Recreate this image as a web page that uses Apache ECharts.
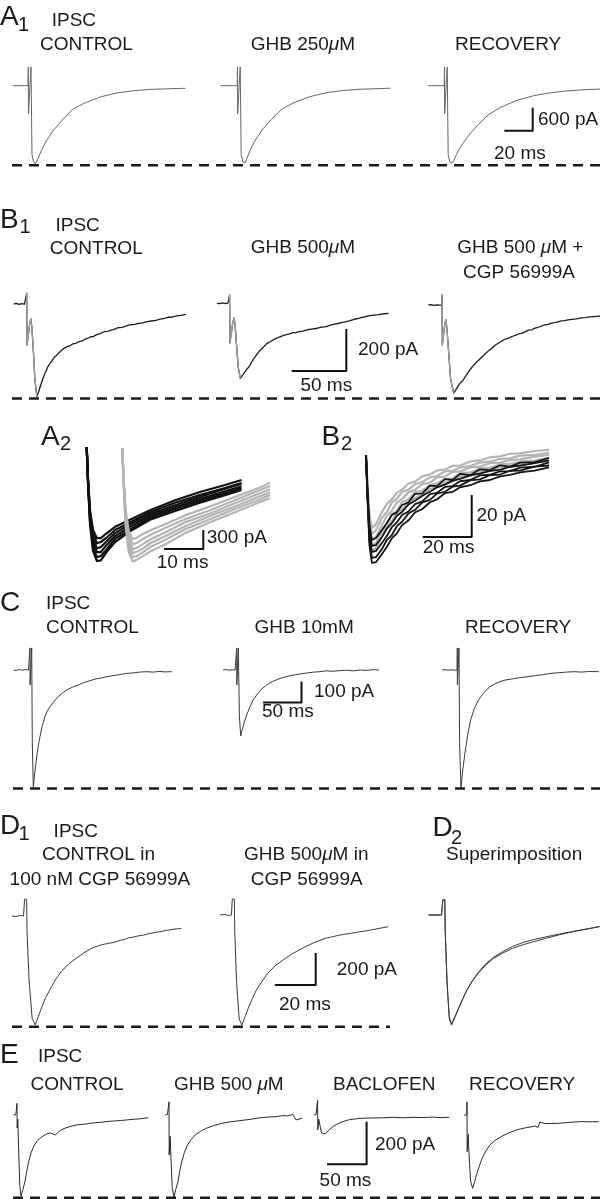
<!DOCTYPE html>
<html>
<head>
<meta charset="utf-8">
<script src="https://cdn.jsdelivr.net/npm/echarts@6/dist/echarts.min.js"></script>
<style>
  html, body { margin: 0; padding: 0; background: #fff; }
  #main { width: 600px; height: 1199px; }
</style>
</head>
<body>
<div id="main"></div>
<script>
// traces: [time ms, current pA], t = 0 at the stimulus artefact, 0 pA = holding baseline

// A1  IPSC, GHB 250 uM
var a1Control = [[-11,0],[-0.2,0],[0,490],[0.1,-740],[1.9,490],[2.6,-1800],[3.8,-2000],[5.3,-2030],[6.5,-1930],[8.4,-1760],[10.5,-1590],[13.1,-1420],[17.9,-1160],[23.9,-900],[31,-630],[39.3,-460],[51.2,-290],[63.1,-185],[74.8,-130],[86.9,-95],[101,-78],[111,-68]];
var a1Ghb = [[-12,0],[-0.2,0],[0,490],[0.1,-740],[1.9,490],[2.6,-1800],[3.8,-1990],[5.3,-2020],[6.5,-1910],[8.4,-1730],[10.5,-1560],[13.1,-1390],[17.9,-1130],[23.9,-880],[31,-620],[39.3,-450],[51.2,-285],[63.1,-180],[74.8,-125],[86.9,-92],[101,-75],[108,-66]];
var a1Recovery = [[-11.7,0],[-0.2,0],[0,490],[0.1,-740],[1.9,490],[2.6,-1800],[3.8,-1990],[5.3,-2020],[6.5,-1950],[8.4,-1800],[10.5,-1650],[13.1,-1500],[17.9,-1260],[23.9,-1010],[31,-760],[39.3,-570],[51.2,-380],[63.1,-260],[74.8,-185],[86.9,-135],[101,-100],[110,-88]];

// B1  IPSC, GHB 500 uM, GHB 500 uM + CGP 56999A
var b1Control = [[-11.8,0],[-9.5,3],[-7,-2],[-4.5,2],[-2,-1],[-0.2,0],[0,52],[0.3,-195],[1.5,-190],[2.6,-100],[3.7,-71],[4.7,-110],[5.8,-195],[7.5,-360],[9.3,-441],[10.8,-420],[12.3,-394],[14.5,-360],[16.9,-328],[19,-302],[21.6,-281],[25,-255],[27,-246],[29.3,-233],[31,-229],[33,-215],[37,-203],[40,-198],[42,-190],[45,-187],[47.8,-179],[51,-176],[53,-168],[56,-163],[58.6,-156],[61,-155],[64,-146],[67,-141],[70.9,-132],[74,-130],[77,-124],[80,-121],[83.3,-113],[87,-111],[90,-106],[94,-99],[98.7,-97],[102,-92],[106,-90],[110,-84],[114.2,-81],[118,-78],[122,-72],[126,-68],[129.6,-63],[133,-62],[137,-57],[141,-54],[145.6,-49]];
var b1Ghb = [[-11.7,0],[-9,-2],[-6.5,2],[-4,-1],[-1.5,1],[-0.2,0],[0,40],[0.3,-189],[1.5,-185],[2.8,-95],[4.1,-70],[5.1,-110],[6.2,-189],[8,-310],[9.9,-357],[11.5,-345],[13.5,-330],[15.5,-315],[17.8,-302],[20,-280],[23,-258],[25.5,-240],[28.1,-222],[31,-208],[34,-192],[37,-183],[40,-174],[42.5,-167],[46,-160],[50,-152],[54,-147],[58,-140],[61,-139],[63.8,-135],[67,-132],[71,-126],[75,-123],[79,-120],[83,-115],[88.3,-111],[92,-104],[96,-99],[100,-95],[103,-91],[105.9,-88],[110,-83],[114,-76],[118,-72],[121,-67],[124,-64],[128,-59],[132,-56],[136,-54],[140,-51],[145.3,-48]];
var b1Cgp = [[-12.4,0],[-10,2],[-7.5,-2],[-5,1],[-2.5,-1],[-0.2,0],[0,48],[0.3,-190],[1.5,-186],[2.5,-95],[3.5,-71],[4.5,-110],[5.6,-190],[7.8,-350],[10.6,-420],[12.5,-405],[15,-384],[17,-370],[19.4,-357],[22,-335],[25,-312],[28,-292],[31,-275],[33.7,-262],[37,-245],[40,-230],[43,-216],[46,-205],[48.5,-192],[51.4,-182],[55,-170],[58,-162],[61,-158],[64,-150],[67,-145],[70,-138],[72.7,-135],[76,-128],[79,-120],[82,-118],[85,-110],[88,-106],[91,-100],[93.9,-95],[97,-92],[100,-86],[103,-84],[106,-80],[109,-76],[112,-74],[115.2,-71],[119,-68],[123,-66],[127,-61],[131,-60],[135,-57],[139,-55],[143,-53],[146.3,-52]];

// A2  superimposed IPSCs, control (black) and GHB (grey), shared sample times
var a2Time = [0, 0.33, 0.84, 1.6, 2.6, 3.6, 4.9, 7.2, 11, 16.1, 22.5, 28.8, 35.2, 39.4];
var a2Black1 = [0, -490, -1000, -1310, -1440, -1440, -1370, -1260, -1150, -1000, -840, -710, -600, -520];
var a2Black2 = [0, -510, -1030, -1370, -1520, -1500, -1440, -1310, -1190, -1030, -880, -760, -650, -570];
var a2Black3 = [0, -520, -1070, -1440, -1600, -1580, -1500, -1360, -1220, -1060, -920, -790, -660, -580];
var a2Black4 = [0, -540, -1120, -1500, -1660, -1660, -1560, -1410, -1260, -1090, -950, -820, -700, -620];
var a2Black5 = [0, -550, -1170, -1580, -1740, -1720, -1630, -1450, -1300, -1120, -980, -850, -730, -650];
var a2Black6 = [0, -570, -1220, -1640, -1800, -1790, -1670, -1500, -1330, -1150, -1010, -880, -760, -680];
var a2GreyTime = [0, 0.33, 0.84, 1.6, 2.6, 3.6, 4.9, 7.2, 11, 16.1, 22.5, 28.8, 35.2, 37.6];
var a2Grey1 = [0, -470, -980, -1300, -1440, -1420, -1370, -1300, -1200, -1060, -920, -770, -620, -550];
var a2Grey2 = [0, -490, -1030, -1370, -1520, -1500, -1450, -1370, -1260, -1120, -980, -820, -660, -600];
var a2Grey3 = [0, -510, -1070, -1440, -1600, -1580, -1530, -1440, -1330, -1170, -1030, -870, -710, -650];
var a2Grey4 = [0, -520, -1120, -1500, -1660, -1640, -1600, -1500, -1390, -1230, -1070, -920, -760, -700];
var a2Grey5 = [0, -540, -1170, -1560, -1720, -1710, -1660, -1560, -1450, -1280, -1120, -960, -810, -740];
var a2Grey6 = [0, -550, -1220, -1630, -1790, -1770, -1720, -1630, -1520, -1340, -1170, -1010, -850, -790];

// B2  superimposed IPSCs
var b2Time = [0, 0.6, 1.4, 2.4, 4.1, 6.5, 8.5, 10.6, 12.6, 14.7, 17.3, 20, 23, 26.1, 29, 32.2, 35.3, 38.4, 42.5, 46.5, 50.6, 54.7, 58.8, 62.9, 68.8, 74.7];
var b2Black1 = [0, -16.7, -33.3, -40.5, -39.5, -35.7, -32.4, -28.5, -27.3, -23.8, -22.6, -18.5, -18.3, -14.6, -14.8, -11.5, -11.9, -9, -9.6, -6.8, -7.2, -4.9, -5.5, -3.6, -3.4, -1.4];
var b2Black2 = [0, -17.6, -35.7, -43.3, -42.9, -39, -35.1, -32.4, -28.9, -27.1, -23.6, -21.8, -19.4, -17.5, -15.4, -14.1, -12.3, -11.4, -9.7, -8.9, -7.6, -7.1, -5.6, -5.1, -3.9, -2.6];
var b2Black3 = [0, -18.6, -38.1, -46.2, -45.7, -41.9, -38.6, -34.3, -32.1, -28.6, -26.9, -23.4, -22.1, -18.6, -18, -15.2, -14.8, -12.5, -11.9, -9.7, -9.4, -7.8, -7.7, -6, -5.6, -3.5];
var b2Black4 = [0, -19.5, -40.5, -49, -48.6, -44.8, -40.5, -38, -33.9, -31.8, -27.9, -26.1, -22.6, -21.4, -18.4, -17.5, -15.1, -14.6, -12.1, -11.6, -9.6, -9.3, -7.5, -7.4, -5.5, -5];
var b2Black5 = [0, -20.5, -42.9, -51.4, -51, -47.1, -43.8, -39.6, -37.3, -33.4, -31.2, -27.3, -25.7, -22.5, -21.1, -18.2, -17.6, -15.4, -14.4, -12.6, -11.9, -10.2, -9.5, -8.3, -7.4, -5.9];
var b2Grey1 = [0, -14.3, -28.6, -34.8, -32.9, -27.1, -23.4, -21, -17.9, -16.5, -13.6, -12.7, -10.2, -9.3, -7.3, -6.9, -5.2, -5, -3.1, -2.6, -1.1, -0.6, 0.6, 0.8, 1.9, 2.4];
var b2Grey2 = [0, -15.2, -31, -37.6, -35.7, -30, -27.2, -22.5, -20.8, -17.6, -16.5, -13.9, -12.8, -10.7, -10, -7.8, -7.5, -5.9, -5.3, -3.6, -3.2, -1.8, -1.6, -0.3, 0.1, 1];
var b2Grey3 = [0, -16.2, -33.3, -40.5, -39, -33.3, -29, -26.4, -22.6, -21, -17.8, -16.6, -13.9, -13.2, -10.7, -10.3, -8, -7.8, -5.9, -5.5, -3.9, -3.6, -2.4, -2.1, -0.8, 0];
var b2Grey4 = [0, -17.1, -35.7, -43.3, -41.9, -36.2, -33.1, -28.1, -26.6, -22.4, -21.2, -17.6, -16.9, -14.3, -13.6, -11.4, -11.2, -8.5, -8.4, -6.3, -6.1, -4.4, -4.2, -3.2, -2.7, -1.3];
var b2Grey5 = [0, -18.1, -38.1, -45.7, -44.3, -39, -34.2, -31.5, -27.6, -25.8, -22.4, -20.6, -18.7, -16.2, -15.3, -13.1, -12.5, -10.2, -10, -8, -7.6, -5.9, -5.7, -4.6, -3.8, -2.6];

// C  IPSC, GHB 10 mM
var cControl = [[-21.7,0],[-18,-2],[-14,2],[-10,-1],[-6,2],[-2,0],[-0.2,0],[0,105],[0.1,-71],[2.2,105],[3,-350],[4.3,-556],[6.5,-480],[8.7,-413],[10.8,-360],[13,-318],[16,-265],[19.5,-222],[22.5,-195],[26,-175],[31,-150],[36.8,-127],[42,-110],[47.8,-95],[55,-82],[62.9,-71],[70,-60],[78.1,-51],[86,-42],[93,-38],[99.9,-32],[108,-27],[117,-22],[125.9,-16],[134,-14],[143,-10],[152,-8],[160,-10],[168,-7],[176,-9],[184.5,-8]];
var cGhb = [[-17.8,0],[-14,2],[-10,-1],[-6,1],[-2,0],[-0.2,0],[0,105],[0.1,-71],[2.1,105],[3.5,-220],[5.2,-314],[7.5,-280],[10.8,-238],[14,-205],[17.3,-175],[21,-145],[26,-119],[32,-92],[39.1,-71],[47,-54],[56.4,-40],[65,-31],[74,-24],[82.4,-19],[90,-15],[100,-10],[108.5,-8],[116,-4],[125,-6],[134.5,-3],[143,-1],[152,-4],[161,0],[170,-2],[178,2],[185.3,0]];
var cRecovery = [[-19.9,0],[-16,2],[-12,-1],[-8,1],[-4,-1],[-0.2,0],[0,105],[0.1,-71],[2.2,105],[3,-350],[4.8,-562],[7,-480],[10,-395],[13.5,-310],[17.4,-238],[22,-185],[27.5,-143],[34,-110],[42.4,-80],[52,-60],[62.1,-48],[72,-42],[82,-36],[92.1,-32],[102,-26],[112,-22],[122,-16],[132,-13],[142,-10],[152,-8],[162,-10],[172,-7],[184.5,-8]];

// D1 / D2  in 100 nM CGP 56999A
var dControl = [[-6.8,0],[-5,-3],[-3,3],[-1.2,0],[-0.7,0],[-0.7,104],[0.3,104],[0.5,-100],[1.5,-400],[3,-640],[4.5,-681],[6,-630],[7.8,-567],[9.6,-510],[11.6,-463],[14.3,-400],[17.2,-348],[20.8,-300],[24.6,-264],[28.3,-230],[32.1,-202],[35,-188],[37.5,-178],[40,-172],[43.3,-164],[46,-152],[48,-148],[50,-137],[52.7,-131],[55,-124],[57.4,-120],[60,-110],[62,-106],[64,-100],[66,-98],[68,-91],[70,-88],[72,-83],[74,-80],[76,-77]];
var dGhb = [[-6.6,0],[-4.5,3],[-2.5,-3],[-1,0],[-0.6,0],[-0.6,100],[0.4,100],[0.6,-100],[1.5,-420],[2.8,-650],[4.1,-688],[5.8,-630],[7.5,-573],[9.3,-520],[11.2,-469],[13.9,-415],[16.8,-364],[20.3,-318],[24.2,-281],[28.8,-242],[33.6,-208],[39,-175],[44.8,-146],[48,-137],[51,-128],[54.5,-120],[57.8,-114],[61,-106],[64.5,-100],[68,-92],[72,-82],[75.6,-73]];
var dSuperControl = [[-7.5,0],[-5,2],[-3,-2],[-1.2,0],[-0.6,0],[-0.6,95],[0.4,95],[0.6,-100],[1.5,-420],[2.6,-640],[3.7,-681],[5.5,-630],[7.4,-573],[9.3,-520],[11.2,-469],[13.9,-413],[16.8,-364],[20.4,-313],[24.2,-271],[28.8,-237],[33.6,-208],[39,-184],[45,-163],[50,-145],[56,-125],[61,-110],[67.2,-94],[72,-83],[76.1,-73]];
var dSuperGhb = [[-7.5,0],[-5,-2],[-3,2],[-1.2,0],[-0.6,0],[-0.6,95],[0.4,95],[0.6,-100],[1.5,-430],[2.6,-650],[3.7,-688],[5.5,-635],[7.4,-578],[9.3,-522],[11.2,-469],[13.9,-410],[16.8,-358],[20.4,-305],[24.2,-265],[28.8,-228],[33.6,-196],[39,-170],[45,-150],[50,-136],[56,-120],[61,-108],[67.2,-93],[72,-82],[76.1,-71]];

// E  IPSC, GHB 500 uM, baclofen
var eControl = [[-4.5,0],[-1.5,2],[-0.2,0],[0,55],[0.2,-61],[1,-20],[2,-150],[3.5,-330],[5,-380],[7.5,-350],[10,-313],[12.3,-265],[14.7,-219],[18,-175],[21.9,-141],[26,-120],[31.6,-102],[36,-92],[41.3,-84],[45,-88],[48.5,-94],[52,-80],[56,-70],[60.5,-62],[67,-54],[75,-47],[83,-44],[91,-40],[99.2,-36],[107,-34],[115,-30],[123.2,-28],[131,-26],[139,-23],[147.4,-20],[155,-18],[165.7,-13]];
var eGhb = [[-5,0],[-2,2],[-0.2,0],[0,62],[0.2,-188],[1.5,-100],[2.5,-200],[4,-340],[6.3,-385],[8.5,-350],[11.3,-313],[13.5,-265],[16.1,-219],[19.5,-175],[23.3,-141],[28,-115],[33,-94],[40,-76],[47.5,-62],[56,-50],[66.8,-39],[76,-33],[86.1,-28],[95,-24],[105,-19],[114.9,-13],[124,-10],[134,-8],[143.9,-3],[150,-4],[156,3],[158,2],[160.7,-23],[163,-18],[167.9,-15]];
var eBaclofen = [[-4.8,0],[-2,2],[-0.2,0],[0,70],[0.2,-70],[1.5,-20],[3,-50],[5,-85],[7.3,-94],[10,-88],[14.4,-70],[19,-55],[24.2,-44],[31,-32],[38.7,-23],[48,-18],[58,-15],[70,-14],[82,-13],[95,-11],[108,-13],[120.6,-11],[133,-12],[145,-10],[156,-12],[166.4,-11]];
var eRecovery = [[-4,0],[-1.5,2],[-0.2,0],[0,62],[0.2,-172],[1.5,-90],[2.8,-200],[4.5,-310],[7.1,-344],[9.5,-315],[12,-281],[15.5,-240],[19.2,-203],[24,-168],[28.9,-141],[35,-120],[43.2,-102],[52,-85],[62.5,-70],[74,-60],[86.7,-52],[89.5,-59],[92,-33],[98.3,-40],[107,-40],[115.5,-39],[125,-36],[135,-33],[144.5,-31],[155,-32],[166.2,-31]];

// scale bars [ms, pA]
var scaleA1 = [20, 600];
var scaleB1 = [50, 200];
var scaleA2 = [10, 300];
var scaleB2 = [20, 20];
var scaleC = [50, 100];
var scaleD = [20, 200];
var scaleE = [50, 200];

var W = 600, H = 1199;
var FONT = '"Liberation Sans", Arial, Helvetica, sans-serif';
var chart = echarts.init(document.getElementById('main'));

var grids = [], xAxes = [], yAxes = [], series = [], graphics = [];
var gridInfo = [];

// one full-page grid per trace: origin (x0,y0) in px, sx px/ms, sy px/pA
function addGrid(x0, y0, sx, sy) {
  var i = grids.length;
  grids.push({ left: 0, top: 0, width: W, height: H });
  xAxes.push({ type: 'value', gridIndex: i, min: -x0 / sx, max: (W - x0) / sx, show: false, splitLine: { show: false } });
  yAxes.push({ type: 'value', gridIndex: i, min: -(H - y0) / sy, max: y0 / sy, show: false, splitLine: { show: false } });
  gridInfo.push({ x0: x0, y0: y0, sx: sx, sy: sy });
  return i;
}

function line(g, data, color, width, z, dash) {
  series.push({
    type: 'line', xAxisIndex: g, yAxisIndex: g, data: data,
    showSymbol: false, symbol: 'none', animation: false, silent: true, clip: false,
    lineStyle: { color: color, width: width, type: dash || 'solid', cap: 'butt', join: 'round' },
    z: z || 2
  });
}

function zip(t, v) {
  return t.map(function (x, i) { return [x, v[i]]; });
}

function peakOf(data) {
  var m = 0;
  data.forEach(function (p) { if (p[1] < m) m = p[1]; });
  return m;
}

// dashed peak reference line, from px xa to px xb
function dashed(g, data, xa, xb) {
  var gi = gridInfo[g];
  var level = peakOf(data) - 1.8 / gi.sy;
  line(g, [[(xa - gi.x0) / gi.sx, level], [(xb - gi.x0) / gi.sx, level]], '#1a1a1a', 2.5, 1, [10, 7]);
}

// L-shaped scale bar with its corner at (xc, yc)
function scaleBar(xc, yc, sx, sy, bar) {
  var g = addGrid(xc, yc, sx, sy);
  line(g, [[-bar[0], 0], [0, 0], [0, bar[1]]], '#111', 2, 5);
}

function txt(s, x, y, size, rich) {
  var st = { text: s, x: 0, y: 0, font: size + 'px ' + FONT, fill: '#1a1a1a', align: 'left', verticalAlign: 'middle' };
  if (rich) {
    st.rich = { i: { fontStyle: 'italic', fontSize: size, fontFamily: FONT, fill: '#1a1a1a' } };
  }
  graphics.push({ type: 'text', x: x, y: y, silent: true, style: st, z: 10 });
}

// ---- A1
var sxA1 = 1.415, syA1 = 23 / 600;
var gA1c = addGrid(28.3, 85.7, sxA1, syA1);
var gA1g = addGrid(237.5, 85.7, sxA1, syA1);
var gA1r = addGrid(444.5, 85.7, sxA1, syA1);
line(gA1c, a1Control, '#666', 1);
line(gA1g, a1Ghb, '#666', 1);
line(gA1r, a1Recovery, '#666', 1);
dashed(gA1c, a1Control, 12, 600);
scaleBar(532.7, 130.7, sxA1, syA1, scaleA1);

// ---- B1
var sxB1 = 1.094, syB1 = 0.21;
var gB1c = addGrid(26.7, 304, sxB1, syB1);
var gB1g = addGrid(229.6, 303.3, sxB1, syB1);
var gB1r = addGrid(442, 305, sxB1, syB1);
[[gB1c, b1Control], [gB1g, b1Ghb], [gB1r, b1Cgp]].forEach(function (p) {
  var d = p[1];
  var k = 0;
  d.forEach(function (q, i) { if (q[1] < d[k][1]) k = i; });
  var first = 0;
  while (d[first][0] < 0) first++;
  line(p[0], d, '#1c1c1c', 1.3, 2);
  // stimulus artefact and rising phase drawn lighter
  line(p[0], d.slice(first - 1, k + 1), '#a0a0a0', 1.3, 3);
});
dashed(gB1c, b1Control, 12, 600);
scaleBar(346.3, 371, sxB1, syB1, scaleB1);

// ---- A2
var sxA2 = 3.93, syA2 = 19 / 300;
var gA2k = addGrid(86.7, 447, sxA2, syA2);
var gA2g = addGrid(122.3, 448, sxA2, syA2);
[a2Black1, a2Black2, a2Black3, a2Black4, a2Black5, a2Black6].forEach(function (v) {
  line(gA2k, zip(a2Time, v), '#111', 2.2, 2);
});
[a2Grey1, a2Grey2, a2Grey3, a2Grey4, a2Grey5, a2Grey6].forEach(function (v) {
  line(gA2g, zip(a2GreyTime, v), '#b4b4b4', 2.2, 3);
});
scaleBar(203.3, 549, sxA2, syA2, scaleA2);

// ---- B2
var sxB2 = 2.45, syB2 = 2.1;
var gB2 = addGrid(366, 455, sxB2, syB2);
[b2Grey1, b2Grey2, b2Grey3, b2Grey4, b2Grey5].forEach(function (v) {
  line(gB2, zip(b2Time, v), '#b4b4b4', 2.2, 2);
});
[b2Black1, b2Black2, b2Black3, b2Black4, b2Black5].forEach(function (v) {
  line(gB2, zip(b2Time, v), '#151515', 1.8, 3);
});
scaleBar(471.7, 537, sxB2, syB2, scaleB2);

// ---- C
var sxC = 0.768, syC = 0.21;
var gCc = addGrid(30, 670, sxC, syC);
var gCg = addGrid(236.7, 670, sxC, syC);
var gCr = addGrid(457.3, 670, sxC, syC);
line(gCc, cControl, '#3a3a3a', 1);
line(gCg, cGhb, '#3a3a3a', 1);
line(gCr, cRecovery, '#3a3a3a', 1);
dashed(gCc, cControl, 13, 600);
scaleBar(301.5, 702.5, sxC, syC, scaleC);

// ---- D1 / D2
var sxD = 2.045, syD = 0.16;
var gDc = addGrid(26, 916, sxD, syD);
var gDg = addGrid(233.5, 915, sxD, syD);
var gDs = addGrid(444, 915, sxD, syD);
line(gDc, dControl, '#3a3a3a', 1);
line(gDg, dGhb, '#3a3a3a', 1);
line(gDs, dSuperControl, '#3a3a3a', 1);
line(gDs, dSuperGhb, '#3a3a3a', 1);
dashed(gDc, dControl, 12, 390);
scaleBar(315.7, 985, sxD, syD, scaleD);

// ---- E
var sxE = 0.792, syE = 0.213;
var gEc = addGrid(17, 1115, sxE, syE);
var gEg = addGrid(169, 1115, sxE, syE);
var gEb = addGrid(317.6, 1115, sxE, syE);
var gEr = addGrid(467, 1115, sxE, syE);
line(gEc, eControl, '#2a2a2a', 1);
line(gEg, eGhb, '#2a2a2a', 1);
line(gEb, eBaclofen, '#2a2a2a', 1);
line(gEr, eRecovery, '#2a2a2a', 1);
dashed(gEc, eControl, 13, 600);
scaleBar(366.6, 1164.3, sxE, syE, scaleE);

// ---- text
txt('A', 0, 17, 28); txt('1', 18, 25, 20);
txt('IPSC', 51.7, 20.8, 19);
txt('CONTROL', 40, 45, 19);
txt('GHB 250{i|μ}M', 250.7, 45, 19, true);
txt('RECOVERY', 455, 45, 19);
txt('600 pA', 538, 120, 19);
txt('20 ms', 494, 153.5, 19);

txt('B', 0, 220, 28); txt('1', 19.5, 227, 20);
txt('IPSC', 55.5, 225.5, 19);
txt('CONTROL', 49.8, 249, 19);
txt('GHB 500{i|μ}M', 250.7, 248, 19, true);
txt('GHB 500 {i|μ}M +', 457.3, 248, 19, true);
txt('CGP 56999A', 463, 272.5, 19);
txt('200 pA', 358, 349.5, 19);
txt('50 ms', 300.4, 385.5, 19);

txt('A', 41, 437, 28); txt('2', 60, 444, 20);
txt('B', 321.5, 437, 28); txt('2', 341, 444, 20);
txt('300 pA', 206.7, 538, 19);
txt('10 ms', 156.7, 563, 19);
txt('20 pA', 476.5, 516, 19);
txt('20 ms', 422.7, 548, 19);

txt('C', 0, 603, 28);
txt('IPSC', 46, 603.5, 19);
txt('CONTROL', 46, 627.5, 19);
txt('GHB 10mM', 254.5, 627.5, 19);
txt('RECOVERY', 465, 627.5, 19);
txt('100 pA', 314, 692, 19);
txt('50 ms', 262, 711.5, 19);

txt('D', 0, 826, 28); txt('1', 18.5, 834, 20);
txt('IPSC', 53.6, 831.5, 19);
txt('CONTROL in', 42, 855, 19);
txt('100 nM CGP 56999A', 9.6, 880, 19);
txt('GHB 500{i|μ}M in', 244, 855, 19, true);
txt('CGP 56999A', 250.7, 880, 19);
txt('D', 432.5, 828, 28); txt('2', 451, 838, 20);
txt('Superimposition', 446, 855, 19);
txt('200 pA', 336.8, 969.5, 19);
txt('20 ms', 279, 1004.5, 19);

txt('E', 0, 1055, 28);
txt('IPSC', 38, 1056.5, 19);
txt('CONTROL', 30.6, 1085, 19);
txt('GHB 500 {i|μ}M', 174, 1085, 19, true);
txt('BACLOFEN', 333, 1085, 19);
txt('RECOVERY', 469, 1085, 19);
txt('200 pA', 375, 1145, 19);
txt('50 ms', 319.6, 1180.5, 19);

chart.setOption({
  animation: false,
  backgroundColor: '#fff',
  grid: grids,
  xAxis: xAxes,
  yAxis: yAxes,
  series: series,
  graphic: { elements: graphics }
});
</script>
</body>
</html>
